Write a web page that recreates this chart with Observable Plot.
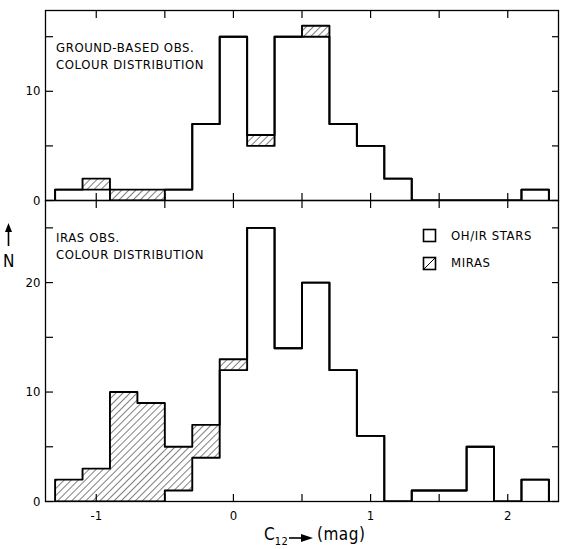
<!DOCTYPE html>
<html>
<head>
<meta charset="utf-8">
<script src="https://cdn.jsdelivr.net/npm/d3@7"></script>
<script src="https://cdn.jsdelivr.net/npm/@observablehq/plot@0.6"></script>
<style>
  html, body { margin: 0; padding: 0; background: #fff; }
  #wrap { position: relative; width: 570px; height: 549px; overflow: hidden; background: #fff;
          font-family: "DejaVu Sans Condensed", "DejaVu Sans", sans-serif; color: #000; }
  .abs { position: absolute; }
  .ptxt { position: absolute; font-size: 13px; letter-spacing: 0.6px; line-height: 17px; white-space: pre; }
</style>
</head>
<body>
<svg width="0" height="0" style="position:absolute">
  <defs>
    <pattern id="hatch" patternUnits="userSpaceOnUse" width="5" height="5" patternTransform="rotate(45)">
      <line x1="0" y1="0" x2="0" y2="5" stroke="#000" stroke-width="1"/>
    </pattern>
  </defs>
</svg>
<div id="wrap">
  <div id="top" class="abs" style="left:0;top:0"></div>
  <div id="bot" class="abs" style="left:0;top:190px"></div>

  <div class="ptxt" style="left:56px;top:39px">GROUND-BASED OBS.
COLOUR DISTRIBUTION</div>
  <div class="ptxt" style="left:56px;top:229px">IRAS OBS.
COLOUR DISTRIBUTION</div>

  <!-- legend -->
  <svg class="abs" style="left:422px;top:228px" width="16" height="44">
    <rect x="1.5" y="1.5" width="12" height="12" fill="none" stroke="#000" stroke-width="1.6"/>
    <rect x="1.5" y="29.5" width="12" height="12" fill="none" stroke="#000" stroke-width="1.6"/>
    <line x1="1.5" y1="41.5" x2="13.5" y2="29.5" stroke="#000" stroke-width="1"/>
  </svg>
  <div class="ptxt" style="left:451px;top:227px">OH/IR STARS</div>
  <div class="ptxt" style="left:451px;top:254px">MIRAS</div>

  <!-- y label -->
  <svg class="abs" style="left:2px;top:222px" width="14" height="26">
    <line x1="6.5" y1="6" x2="6.5" y2="24" stroke="#000" stroke-width="1.6"/>
    <path d="M6.5,1 L3,10 L10,10 Z" fill="#000"/>
  </svg>
  <div class="abs" style="left:3px;top:251px;font-size:17px;">N</div>

  <!-- x label -->
  <div class="abs" style="left:264px;top:524px;font-size:17px;white-space:nowrap;">C<span style="font-size:11px;position:relative;top:5px;letter-spacing:0.5px">12</span></div>
  <svg class="abs" style="left:289px;top:532px" width="26" height="12">
    <line x1="0" y1="6" x2="14" y2="6" stroke="#000" stroke-width="1.6"/>
    <path d="M24,6 L12,2 L12,10 Z" fill="#000"/>
  </svg>
  <div class="abs" style="left:317px;top:524px;font-size:17px;letter-spacing:0.5px;white-space:nowrap;">(mag)</div>
</div>

<script>
// Bin centres (mag), bin width 0.2
const binCentres = [-1.2, -1.0, -0.8, -0.6, -0.4, -0.2, 0.0, 0.2, 0.4, 0.6, 0.8, 1.0, 1.2, 1.4, 1.6, 1.8, 2.0, 2.2];
const binWidth = 0.2;

// Ground-based observations
const groundOHIR  = [1, 1, 0, 0, 1, 7, 15, 5, 15, 15, 7, 5, 2, 0, 0, 0, 0, 1];
const groundMiras = [0, 1, 1, 1, 0, 0, 0, 1, 0, 1, 0, 0, 0, 0, 0, 0, 0, 0];

// IRAS observations
const irasOHIR  = [0, 0, 0, 0, 1, 4, 12, 25, 14, 20, 12, 6, 0, 1, 1, 5, 0, 2];
const irasMiras = [2, 3, 10, 9, 4, 3, 1, 0, 0, 0, 0, 0, 0, 0, 0, 0, 0, 0];

const xTicks = [-1, -0.5, 0, 0.5, 1, 1.5, 2];
const xLabels = [-1, 0, 1, 2];
const yTicksTop = [0, 5, 10, 15];
const yTicksBot = [0, 5, 10, 15, 20, 25];
const xDomain = [-1.37, 2.37];

function rows(oh, mi) {
  return binCentres.map((c, i) => ({x1: c - binWidth / 2, x2: c + binWidth / 2, oh: oh[i], mira: mi[i], total: oh[i] + mi[i]}));
}
function steps(rs, key) {
  const pts = [{x: rs[0].x1, y: 0}];
  for (const r of rs) pts.push({x: r.x1, y: r[key]});
  pts.push({x: rs[rs.length - 1].x2, y: 0});
  return pts;
}

const font = {fontFamily: '"DejaVu Sans Condensed", "DejaVu Sans", sans-serif', fontSize: "13px", background: "transparent", overflow: "visible", color: "#000"};

function panel(oh, mi, yDomain, yTicks, opts) {
  const rs = rows(oh, mi);
  const fmtY = d => (d % 10 === 0 ? String(d) : "");
  const fmtX = opts.xLabels
    ? d => (xLabels.includes(d) ? (d < 0 ? "-" + Math.abs(d) : String(d)) : "")
    : () => "";
  return Plot.plot({
    width: 570,
    height: opts.height,
    marginTop: opts.marginTop,
    marginBottom: opts.marginBottom,
    marginLeft: 45,
    marginRight: 12,
    style: font,
    x: {domain: xDomain},
    y: {domain: yDomain},
    marks: [
      Plot.rect(rs.filter(r => r.mira > 0), {x1: "x1", x2: "x2", y1: "oh", y2: "total", fill: "url(#hatch)"}),
      Plot.line(steps(rs, "oh"), {x: "x", y: "y", curve: "step-after", stroke: "#000", strokeWidth: 1.9, clip: true}),
      Plot.line(steps(rs, "total"), {x: "x", y: "y", curve: "step-after", stroke: "#000", strokeWidth: 1.9, clip: true}),
      Plot.frame({stroke: "#000", strokeWidth: 1.3}),
      Plot.axisY({anchor: "left", ticks: yTicks, tickSize: -8, tickPadding: 13, tickFormat: fmtY, label: null, strokeWidth: 1.2, fontSize: 13}),
      Plot.axisY({anchor: "right", ticks: yTicks, tickSize: -7, tickFormat: () => "", label: null, strokeWidth: 1.2}),
      Plot.axisX({anchor: "top", ticks: xTicks, tickSize: -7, tickFormat: () => "", label: null, strokeWidth: 1.2}),
      Plot.axisX({anchor: "bottom", ticks: xTicks, tickSize: -7, tickPadding: 16, tickFormat: fmtX, label: null, strokeWidth: 1.2, fontSize: 13})
    ]
  });
}

document.getElementById("top").appendChild(
  panel(groundOHIR, groundMiras, [0, 17.4], yTicksTop, {height: 215, marginTop: 10, marginBottom: 15, xLabels: false})
);
document.getElementById("bot").appendChild(
  panel(irasOHIR, irasMiras, [0, 27.5], yTicksBot, {height: 359, marginTop: 10, marginBottom: 48, xLabels: true})
);
</script>
</body>
</html>
